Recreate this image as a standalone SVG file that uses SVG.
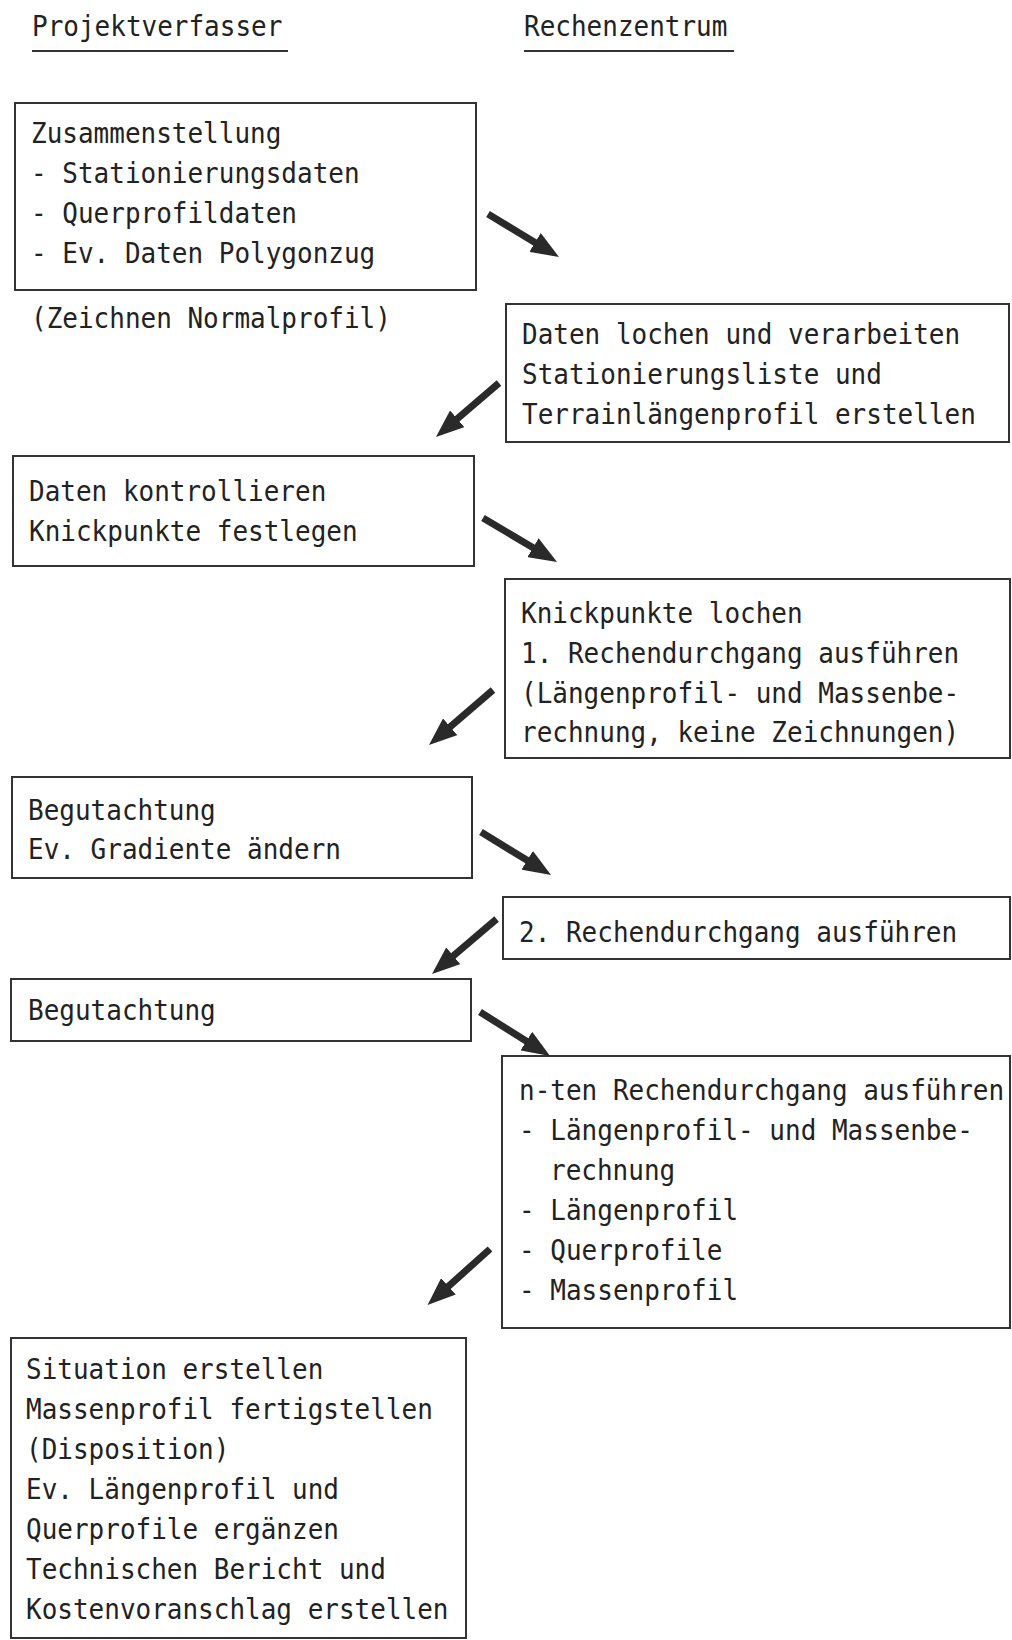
<svg xmlns="http://www.w3.org/2000/svg" width="1012" height="1640" viewBox="0 0 1012 1640">
<style>
  .t { font-family: "DejaVu Sans Mono", "Liberation Mono", monospace; font-size: 26px; fill: #222; }
  .box { fill: none; stroke: #333; stroke-width: 2; }
  .ul { stroke: #333; stroke-width: 2; }
  .arr { stroke: #2a2a2a; stroke-width: 7; fill: none; marker-end: url(#ah); }
</style>
<defs>
  <marker id="ah" markerUnits="userSpaceOnUse" markerWidth="28" markerHeight="22" refX="12" refY="11" orient="auto">
    <path d="M0,0 L28,11 L0,22 z" fill="#2a2a2a"/>
  </marker>
</defs>
<rect width="1012" height="1640" fill="#fff"/>

<g id="header-projektverfasser">
  <text class="t" transform="translate(32,36) scale(1,1.12)">Projektverfasser</text>
  <line class="ul" x1="32" y1="51" x2="288" y2="51"/>
</g>
<g id="header-rechenzentrum">
  <text class="t" transform="translate(524,36) scale(1,1.12)">Rechenzentrum</text>
  <line class="ul" x1="524" y1="51" x2="734" y2="51"/>
</g>

<g id="n1">
  <rect class="box" x="15" y="103" width="461" height="187"/>
  <text class="t" transform="translate(31,143) scale(1,1.12)">Zusammenstellung</text>
  <text class="t" transform="translate(31,183) scale(1,1.12)">- Stationierungsdaten</text>
  <text class="t" transform="translate(31,223) scale(1,1.12)">- Querprofildaten</text>
  <text class="t" transform="translate(31,263) scale(1,1.12)">- Ev. Daten Polygonzug</text>
</g>
<g id="n1-note">
  <text class="t" transform="translate(31,328) scale(1,1.12)">(Zeichnen Normalprofil)</text>
</g>

<g id="n2">
  <rect class="box" x="506" y="304" width="503" height="138"/>
  <text class="t" transform="translate(522,344) scale(1,1.12)">Daten lochen und verarbeiten</text>
  <text class="t" transform="translate(522,384) scale(1,1.12)">Stationierungsliste und</text>
  <text class="t" transform="translate(522,424) scale(1,1.12)">Terrainlängenprofil erstellen</text>
</g>

<g id="n3">
  <rect class="box" x="13" y="456" width="461" height="110"/>
  <text class="t" transform="translate(29,501) scale(1,1.12)">Daten kontrollieren</text>
  <text class="t" transform="translate(29,541) scale(1,1.12)">Knickpunkte festlegen</text>
</g>

<g id="n4">
  <rect class="box" x="505" y="579" width="505" height="179"/>
  <text class="t" transform="translate(521,623) scale(1,1.12)">Knickpunkte lochen</text>
  <text class="t" transform="translate(521,663) scale(1,1.12)">1. Rechendurchgang ausführen</text>
  <text class="t" transform="translate(521,703) scale(1,1.12)">(Längenprofil- und Massenbe-</text>
  <text class="t" transform="translate(521,742) scale(1,1.12)">rechnung, keine Zeichnungen)</text>
</g>

<g id="n5">
  <rect class="box" x="12" y="777" width="460" height="101"/>
  <text class="t" transform="translate(28,820) scale(1,1.12)">Begutachtung</text>
  <text class="t" transform="translate(28,859) scale(1,1.12)">Ev. Gradiente ändern</text>
</g>

<g id="n6">
  <rect class="box" x="503" y="897" width="507" height="62"/>
  <text class="t" transform="translate(519,942) scale(1,1.12)">2. Rechendurchgang ausführen</text>
</g>

<g id="n7">
  <rect class="box" x="11" y="979" width="460" height="62"/>
  <text class="t" transform="translate(28,1020) scale(1,1.12)">Begutachtung</text>
</g>

<g id="n8">
  <rect class="box" x="502" y="1056" width="508" height="272"/>
  <text class="t" transform="translate(519,1100) scale(1,1.12)">n-ten Rechendurchgang ausführen</text>
  <text class="t" transform="translate(519,1140) scale(1,1.12)">- Längenprofil- und Massenbe-</text>
  <text class="t" transform="translate(550,1180) scale(1,1.12)">rechnung</text>
  <text class="t" transform="translate(519,1220) scale(1,1.12)">- Längenprofil</text>
  <text class="t" transform="translate(519,1260) scale(1,1.12)">- Querprofile</text>
  <text class="t" transform="translate(519,1300) scale(1,1.12)">- Massenprofil</text>
</g>

<g id="n9">
  <rect class="box" x="11" y="1338" width="455" height="300"/>
  <text class="t" transform="translate(26,1379) scale(1,1.12)">Situation erstellen</text>
  <text class="t" transform="translate(26,1419) scale(1,1.12)">Massenprofil fertigstellen</text>
  <text class="t" transform="translate(26,1459) scale(1,1.12)">(Disposition)</text>
  <text class="t" transform="translate(26,1499) scale(1,1.12)">Ev. Längenprofil und</text>
  <text class="t" transform="translate(26,1539) scale(1,1.12)">Querprofile ergänzen</text>
  <text class="t" transform="translate(26,1579) scale(1,1.12)">Technischen Bericht und</text>
  <text class="t" transform="translate(26,1619) scale(1,1.12)">Kostenvoranschlag erstellen</text>
</g>

<g id="connectors">
  <line class="arr" x1="488" y1="214" x2="545.3" y2="248.7"/>
  <line class="arr" x1="499" y1="383" x2="448.1" y2="426.6"/>
  <line class="arr" x1="483" y1="518" x2="543.3" y2="553.8"/>
  <line class="arr" x1="493" y1="690" x2="441.1" y2="734.6"/>
  <line class="arr" x1="481" y1="832" x2="537.4" y2="866.6"/>
  <line class="arr" x1="496.6" y1="919" x2="444.2" y2="963.6"/>
  <line class="arr" x1="480" y1="1012" x2="536.5" y2="1047.5"/>
  <line class="arr" x1="490" y1="1249" x2="439.5" y2="1294.3"/>
</g>
</svg>
